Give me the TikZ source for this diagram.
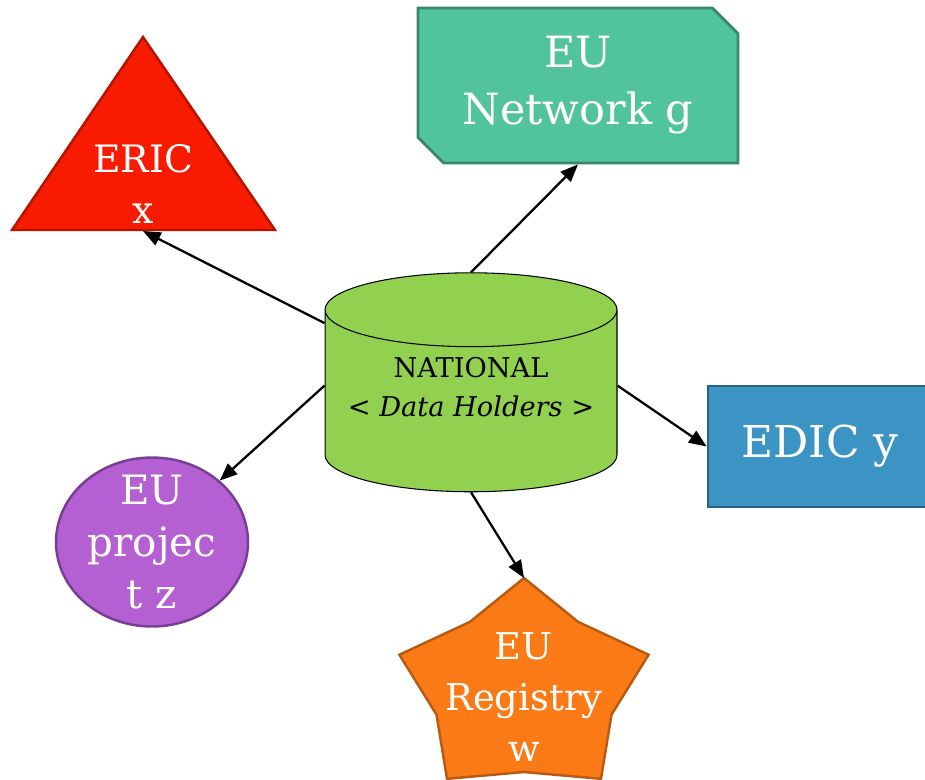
\documentclass[tikz,border=0pt]{standalone}
\usepackage{fontspec}
\setmainfont{DejaVu Serif}
\usetikzlibrary{shapes.geometric, shapes.misc, arrows.meta}

\definecolor{natgreen}{RGB}{146,208,80}
\definecolor{ericred}{RGB}{248,27,0}
\definecolor{ericborder}{RGB}{180,20,0}
\definecolor{netgreen}{RGB}{82,196,156}
\definecolor{netborder}{RGB}{58,136,108}
\definecolor{edicblue}{RGB}{60,148,196}
\definecolor{edicborder}{RGB}{40,98,136}
\definecolor{projpurple}{RGB}{180,96,210}
\definecolor{projborder}{RGB}{120,62,150}
\definecolor{regorange}{RGB}{250,122,22}
\definecolor{regborder}{RGB}{186,90,16}

\begin{document}
\begin{tikzpicture}[x=0.02cm, y=-0.02cm,
  arrow/.style={-{Triangle[length=10pt,width=8pt]}, line width=1.3pt},
  whitetext/.style={text=white, align=center}]

% page size of the reference
\useasboundingbox (0,0) rectangle (925,779);
\clip (0,0) rectangle (925,779);

% centre of the star
\def\sx{524}
\def\sy{689}

% central data store
\node[cylinder, shape border rotate=90, aspect=0.3, draw=black, line width=0.6pt,
  fill=natgreen, minimum width=5.84cm, minimum height=4.38cm, inner sep=0pt,
  font=\fontsize{15.5}{22}\selectfont]
  (db) at (471,401) {\raisebox{3pt}[0pt][0pt]{\begin{tabular}{@{}c@{}}NATIONAL\\< \textit{Data Holders} >\end{tabular}}};

% ERIC triangle
\draw[line width=1.4pt, draw=ericborder, fill=ericred] (143,37) -- (275,230) -- (12,230) -- cycle;
\coordinate (ericbase) at (143,231);
\node[whitetext, font=\fontsize{21.5}{28.5}\selectfont] (eric) at (143,184) {ERIC\\x};

% EU network box with two cut corners
\node[chamfered rectangle, chamfered rectangle corners={north east, south west},
  chamfered rectangle xsep=0.26cm, chamfered rectangle ysep=0.25cm,
  draw=netborder, line width=1.6pt, fill=netgreen, minimum width=6.4cm,
  minimum height=3.1cm, inner sep=0pt, whitetext, font=\fontsize{24.5}{32.5}\selectfont]
  (net) at (578,85.5) {EU\\Network g};

% EDIC box, runs over the right edge
\node[rectangle, draw=edicborder, line width=1.6pt, fill=edicblue, minimum width=4.48cm,
  minimum height=2.42cm, inner sep=0pt, whitetext, font=\fontsize{25}{30}\selectfont]
  (edic) at (820,446.5) {EDIC y};

% EU project ellipse
\node[ellipse, draw=projborder, line width=1.4pt, fill=projpurple, minimum width=3.84cm,
  minimum height=3.38cm, inner xsep=0pt, inner ysep=-8pt, whitetext,
  font=\fontsize{23}{29.5}\selectfont]
  (proj) at (152,542) {EU\\projec\\t z};

% EU registry star
\draw[line width=1.4pt, draw=regborder, fill=regorange] (\sx,578)
  \foreach \k in {0,...,4} {
    -- ({\sx+92*cos(126+72*\k)},{\sy-83*sin(126+72*\k)})
    -- ({\sx+131*cos(162+72*\k)},{\sy-111*sin(162+72*\k)})
  } -- cycle;
\coordinate (regtip) at (\sx,578);
\node[whitetext, font=\fontsize{21}{29}\selectfont] (reg) at (\sx,697) {EU\\Registry\\w};

% arrows out of the data store
\draw[arrow] (db.north) -- (net.south);
\draw[arrow] (db.152) -- (ericbase);
\draw[arrow] (db.174) -- (proj);
\draw[arrow] (db.6) -- (edic.west);
\draw[arrow] (db.south) -- (regtip);

\end{tikzpicture}
\end{document}
